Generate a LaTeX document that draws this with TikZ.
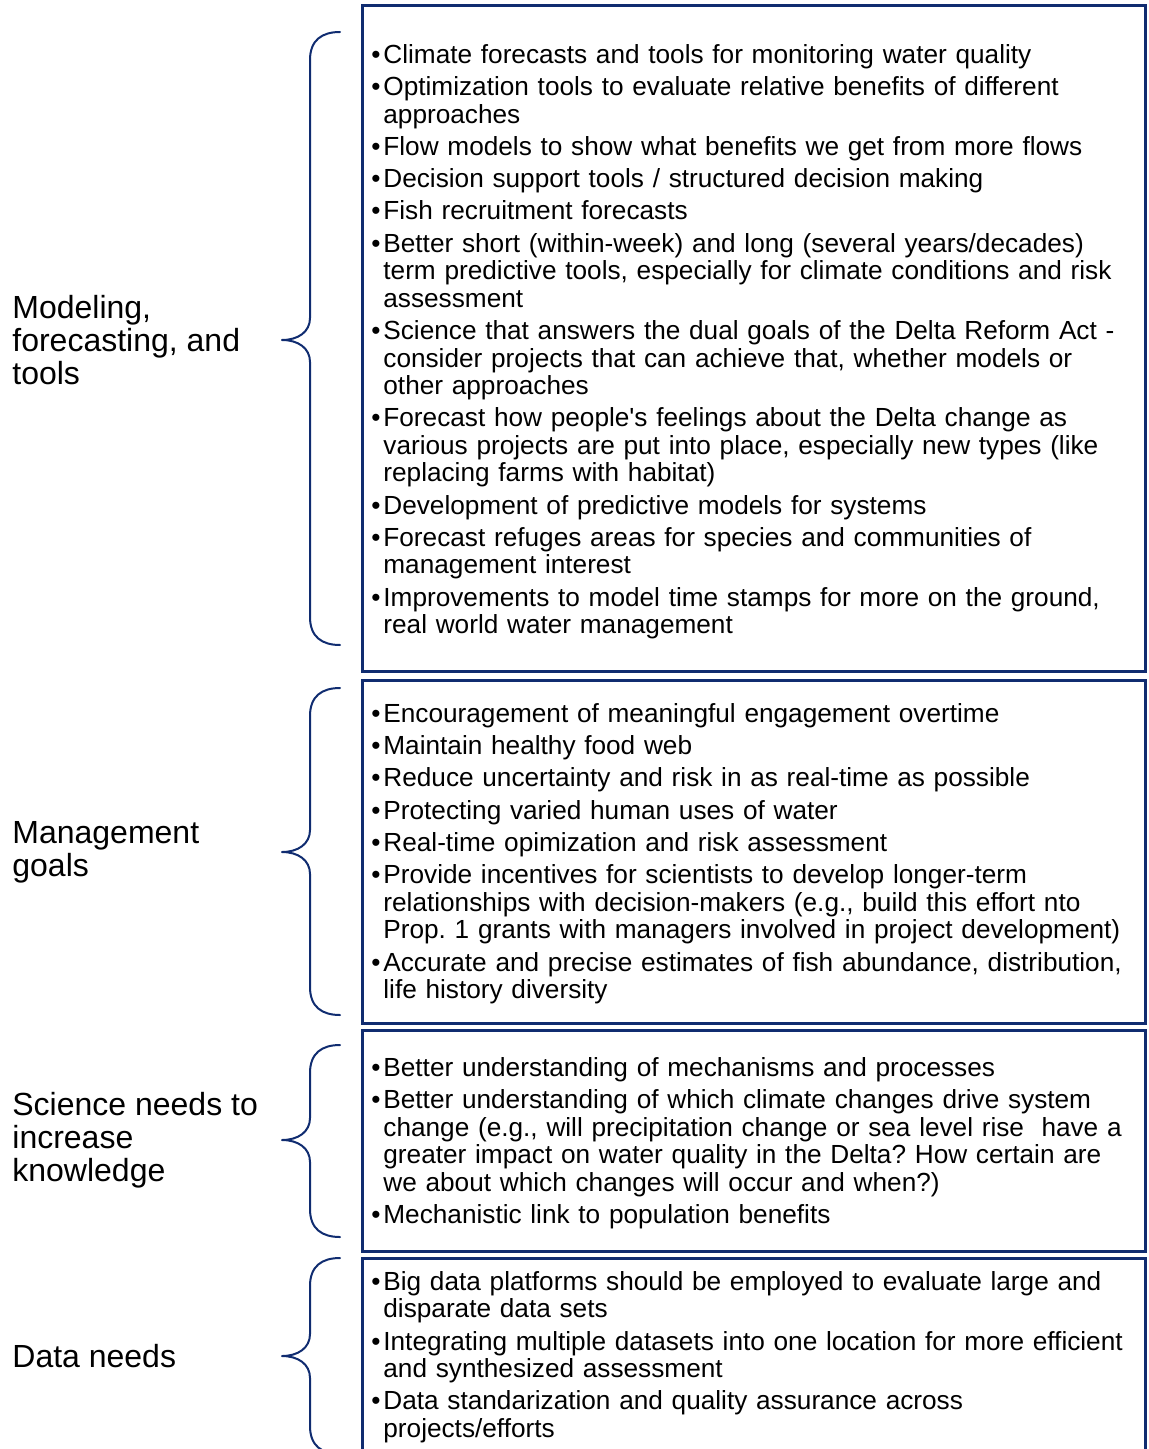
\documentclass[tikz,border=0pt]{standalone}
\usepackage{fontspec}
\setmainfont{Liberation Sans}
\definecolor{navy}{RGB}{16,44,112}
\tikzset{
  grouplabel/.style={anchor=west, align=left, inner sep=0pt, font=\fontsize{16}{16.5}\selectfont},
  itemlist/.style={anchor=base west, inner sep=0pt, text width=390pt, align=left, font=\fontsize{13.1}{13.75}\selectfont\frenchspacing},
  boxframe/.style={draw=navy, line width=1.5pt},
  bracket/.style={draw=navy, line width=1pt, line cap=round, line join=round}
}
% one bullet line, hanging indent for the wrapped lines
\newcommand{\bul}[1]{\par\parskip=2.4pt\noindent\hangindent=7.5pt\hangafter=1\hbox to 7.5pt{\hss\textbullet\hss}#1}

\begin{document}
\begin{tikzpicture}[x=0.5pt, y=-0.5pt]
  \useasboundingbox (0,0) rectangle (1148,1449);
  % the four frames
  \draw[boxframe] (362,6) rectangle (1145,671);
  \draw[boxframe] (362,680) rectangle (1145,1023);
  \draw[boxframe] (362,1030) rectangle (1145,1251);
  \draw[boxframe] (362,1258) rectangle (1145,1470);
  % braces: top / tip / bottom
  \foreach \t/\m/\b in {32/340/645, 688/852/1015, 1045/1140/1237, 1258/1356/1454}
    \draw[bracket] (340,\t) .. controls (322,\t) and (310,\t+8) .. (310,\t+28) -- (310,\m-22)
      .. controls (310,\m-8) and (298,\m) .. (282,\m)
      .. controls (298,\m) and (310,\m+8) .. (310,\m+22) -- (310,\b-28)
      .. controls (310,\b-8) and (322,\b) .. (340,\b);
  % group labels
  \node[grouplabel] (modeling) at (12,340) {Modeling,\\forecasting, and\\tools};
  \node[grouplabel] (mgmt) at (12,852) {Management\\goals};
  \node[grouplabel] (science) at (12,1140) {Science needs to\\increase\\knowledge};
  \node[grouplabel] (data) at (12,1356) {Data needs};
  % lists
  \node[itemlist] (modelinglist) at (368,31) {%
    \bul{Climate forecasts and tools for monitoring water quality}
    \bul{Optimization tools to evaluate relative benefits of different\newline approaches}
    \bul{Flow models to show what benefits we get from more flows}
    \bul{Decision support tools / structured decision making}
    \bul{Fish recruitment forecasts}
    \bul{Better short (within-week) and long (several years/decades)\newline term predictive tools, especially for climate conditions and risk\newline assessment}
    \bul{Science that answers the dual goals of the Delta Reform Act -\newline consider projects that can achieve that, whether models or\newline other approaches}
    \bul{Forecast how people\textquotesingle s feelings about the Delta change as\newline various projects are put into place, especially new types (like\newline replacing farms with habitat)}
    \bul{Development of predictive models for systems}
    \bul{Forecast refuges areas for species and communities of\newline management interest}
    \bul{Improvements to model time stamps for more on the ground,\newline real world water management}\par};
  \node[itemlist] (mgmtlist) at (368,690) {%
    \bul{Encouragement of meaningful engagement overtime}
    \bul{Maintain healthy food web}
    \bul{Reduce uncertainty and risk in as real-time as possible}
    \bul{Protecting varied human uses of water}
    \bul{Real-time opimization and risk assessment}
    \bul{Provide incentives for scientists to develop longer-term\newline relationships with decision-makers (e.g., build this effort nto\newline Prop. 1 grants with managers involved in project development)}
    \bul{Accurate and precise estimates of fish abundance, distribution,\newline life history diversity}\par};
  \node[itemlist] (sciencelist) at (368,1044) {%
    \bul{Better understanding of mechanisms and processes}
    \bul{Better understanding of which climate changes drive system\newline change (e.g., will precipitation change or sea level rise~ have a\newline greater impact on water quality in the Delta? How certain are\newline we about which changes will occur and when?)}
    \bul{Mechanistic link to population benefits}\par};
  \node[itemlist] (datalist) at (368,1258) {%
    \bul{Big data platforms should be employed to evaluate large and\newline disparate data sets}
    \bul{Integrating multiple datasets into one location for more efficient\newline and synthesized assessment}
    \bul{Data standarization and quality assurance across\newline projects/efforts}\par};
\end{tikzpicture}
\end{document}
